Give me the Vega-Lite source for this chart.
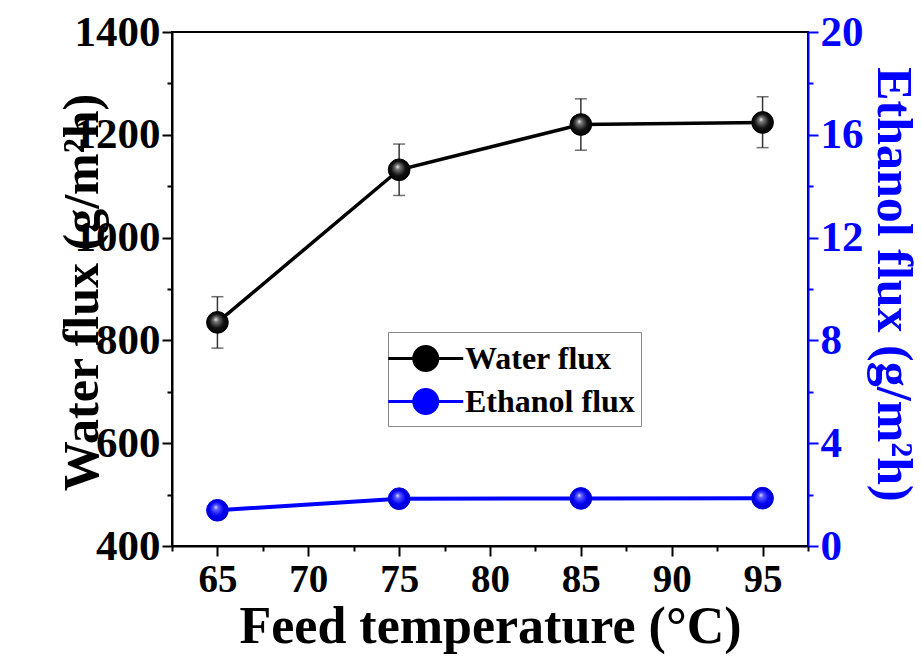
{
  "$schema": "https://vega.github.io/schema/vega-lite/v6.json",
  "width": 636,
  "height": 514,
  "autosize": {"type": "none"},
  "padding": {"left": 172, "top": 32, "right": 114, "bottom": 114},
  "background": "white",
  "config": {
    "font": "Liberation Serif",
    "view": {"stroke": "black", "strokeWidth": 2}
  },
  "data": {
    "values": [
      {"T": 65, "water": 835, "lo": 785, "hi": 885, "ethanol": 1.39},
      {"T": 75, "water": 1132, "lo": 1082, "hi": 1182, "ethanol": 1.84},
      {"T": 85, "water": 1220, "lo": 1170, "hi": 1270, "ethanol": 1.85},
      {"T": 95, "water": 1224, "lo": 1175, "hi": 1274, "ethanol": 1.86}
    ]
  },
  "encoding": {
    "x": {
      "field": "T",
      "type": "quantitative",
      "scale": {"domain": [62.5, 97.5], "nice": false, "zero": false},
      "axis": {
        "title": "Feed temperature (°C)",
        "values": [62.5, 65, 67.5, 70, 72.5, 75, 77.5, 80, 82.5, 85, 87.5, 90, 92.5, 95, 97.5],
        "labelExpr": "datum.value % 5 == 0 ? datum.label : ''",
        "format": "d",
        "tickSize": {"condition": {"test": "datum.value % 5 == 0", "value": 10}, "value": 5},
        "tickColor": "black",
        "tickWidth": 2,
        "domainColor": "black",
        "domainWidth": 2,
        "grid": false,
        "labelFontSize": 39,
        "labelFontWeight": "bold",
        "labelColor": "black",
        "labelPadding": 4,
        "labelFlush": false,
        "labelOverlap": false,
        "titleFontSize": 52,
        "titleFontWeight": "bold",
        "titleColor": "black",
        "titlePadding": 2
      }
    }
  },
  "layer": [
    {
      "encoding": {
        "y": {
          "field": "water",
          "type": "quantitative",
          "scale": {"domain": [400, 1400], "nice": false, "zero": false},
          "axis": {
            "orient": "left",
            "title": "Water flux (g/m²h)",
            "values": [400, 500, 600, 700, 800, 900, 1000, 1100, 1200, 1300, 1400],
            "labelExpr": "datum.value % 200 == 0 ? datum.label : ''",
            "format": "d",
            "tickSize": {"condition": {"test": "datum.value % 200 == 0", "value": 10}, "value": 5},
            "tickColor": "black",
            "tickWidth": 2,
            "domainColor": "black",
            "domainWidth": 2,
            "grid": false,
            "labelFontSize": 43,
            "labelFontWeight": "bold",
            "labelColor": "black",
            "labelPadding": 2,
            "labelFlush": false,
            "labelOverlap": false,
            "titleFontSize": 50,
            "titleFontWeight": "bold",
            "titleColor": "black",
            "titleAngle": -90,
            "titleX": -90,
            "titleY": 260,
            "titleAlign": "center",
            "titleBaseline": "middle"
          }
        }
      },
      "layer": [
        {
          "mark": {"type": "rule", "color": "#333333", "strokeWidth": 1.5},
          "encoding": {"y": {"field": "lo", "type": "quantitative"}, "y2": {"field": "hi"}}
        },
        {
          "mark": {"type": "tick", "orient": "horizontal", "color": "#333333", "thickness": 1.5, "size": 12},
          "encoding": {"y": {"field": "lo", "type": "quantitative"}}
        },
        {
          "mark": {"type": "tick", "orient": "horizontal", "color": "#333333", "thickness": 1.5, "size": 12},
          "encoding": {"y": {"field": "hi", "type": "quantitative"}}
        },
        {
          "mark": {"type": "line", "strokeWidth": 3.5},
          "encoding": {
            "color": {
              "datum": "Water flux",
              "type": "nominal",
              "scale": {"domain": ["Water flux", "Ethanol flux"], "range": ["#000000", "#0000ff"]},
              "legend": {
                "title": null,
                "orient": "none",
                "legendX": 216,
                "legendY": 300,
                "fillColor": "white",
                "strokeColor": "#888888",
                "padding": 6,
                "symbolType": "M-1.4,0L-0.04,0M1.24,0L2.6,0M-0.04,0A0.64,0.64,0,1,1,1.24,0A0.64,0.64,0,1,1,-0.04,0Z",
                "symbolSize": 1406,
                "symbolStrokeWidth": 3,
                "labelFontSize": 32,
                "labelFontWeight": "bold",
                "labelColor": "black",
                "labelOffset": 30,
                "labelLimit": 400,
                "labelExpr": "datum.label == 'Ethanol flux' ? '\u2002' + datum.label : datum.label",
                "rowPadding": 4,
                "offset": 0,
                "encode": {
                  "symbols": {
                    "update": {
                      "fill": {"scale": "color", "field": "value"},
                      "stroke": {"scale": "color", "field": "value"}
                    }
                  }
                }
              }
            }
          }
        },
        {
          "mark": {
            "type": "point",
            "shape": "circle",
            "filled": true,
            "size": 470,
            "opacity": 1,
            "fill": {
              "gradient": "radial",
              "x1": 0.42, "y1": 0.35, "r1": 0,
              "x2": 0.5, "y2": 0.5, "r2": 0.55,
              "stops": [
                {"offset": 0, "color": "#f4f4f4"},
                {"offset": 0.2, "color": "#777777"},
                {"offset": 0.6, "color": "#111111"},
                {"offset": 1, "color": "#000000"}
              ]
            },
            "stroke": "#000000",
            "strokeWidth": 1
          }
        }
      ]
    },
    {
      "encoding": {
        "y": {
          "field": "ethanol",
          "type": "quantitative",
          "scale": {"domain": [0, 20], "nice": false, "zero": false},
          "axis": {
            "orient": "right",
            "title": "Ethanol flux (g/m²h)",
            "values": [0, 2, 4, 6, 8, 10, 12, 14, 16, 18, 20],
            "labelExpr": "datum.value % 4 == 0 ? datum.label : ''",
            "format": "d",
            "tickSize": {"condition": {"test": "datum.value % 4 == 0", "value": 10}, "value": 5},
            "tickColor": "#0000ff",
            "tickWidth": 2,
            "domainColor": "#0000ff",
            "domainWidth": 2,
            "grid": false,
            "labelFontSize": 43,
            "labelFontWeight": "bold",
            "labelColor": "#0000ff",
            "labelPadding": 2,
            "labelFlush": false,
            "labelOverlap": false,
            "titleFontSize": 50,
            "titleFontWeight": "bold",
            "titleColor": "#0000ff",
            "titleAngle": 90,
            "titleX": 84,
            "titleY": 252,
            "titleAlign": "center",
            "titleBaseline": "middle"
          }
        }
      },
      "layer": [
        {
          "mark": {"type": "line", "strokeWidth": 4},
          "encoding": {"color": {"datum": "Ethanol flux", "type": "nominal"}}
        },
        {
          "mark": {
            "type": "point",
            "shape": "circle",
            "filled": true,
            "size": 470,
            "opacity": 1,
            "fill": {
              "gradient": "radial",
              "x1": 0.42, "y1": 0.35, "r1": 0,
              "x2": 0.5, "y2": 0.5, "r2": 0.55,
              "stops": [
                {"offset": 0, "color": "#e8e8ff"},
                {"offset": 0.2, "color": "#5a5aff"},
                {"offset": 0.6, "color": "#0000f0"},
                {"offset": 1, "color": "#0000c8"}
              ]
            },
            "stroke": "#0000dd",
            "strokeWidth": 1
          }
        }
      ]
    }
  ],
  "resolve": {"scale": {"y": "independent"}}
}
